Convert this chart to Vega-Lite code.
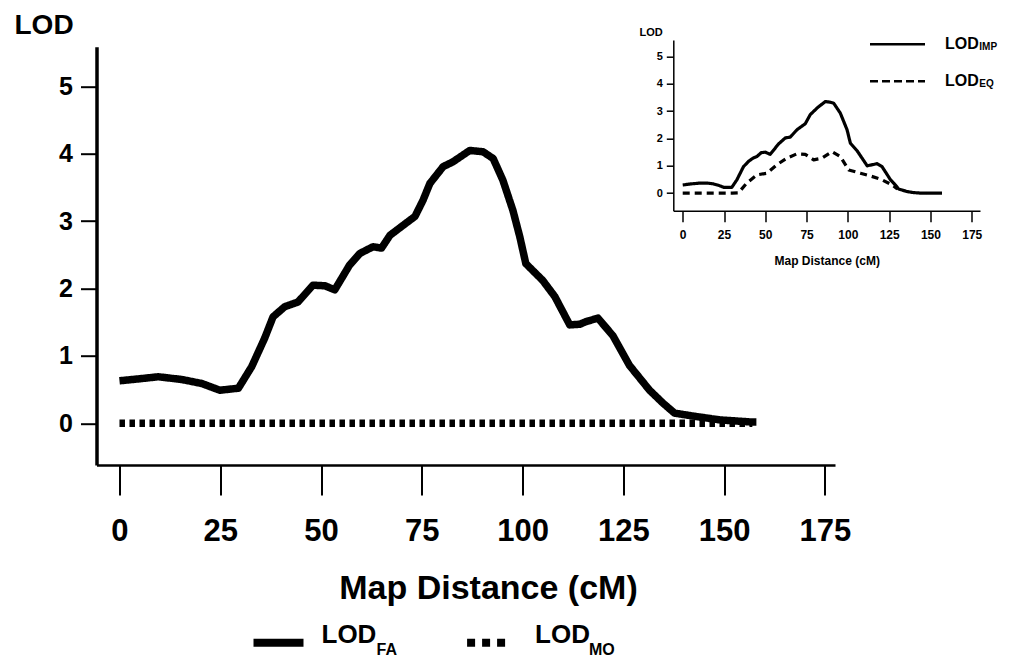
{
  "$schema": "https://vega.github.io/schema/vega-lite/v6.json",
  "width": 738.5,
  "height": 418.3,
  "autosize": {"type": "none"},
  "padding": {"left": 96.5, "top": 46.7, "right": 175, "bottom": 193},
  "background": "white",
  "config": {
    "view": {"stroke": null},
    "font": "Liberation Sans",
    "axis": {"grid": false, "domainColor": "black", "tickColor": "black", "labelColor": "black", "titleColor": "black", "labelFontWeight": "bold", "titleFontWeight": "bold", "labelFlush": false, "labelOverlap": false},
    "legend": {"labelColor": "black", "padding": 0, "offset": 0, "titlePadding": 0, "symbolOpacity": 1}
  },
  "datasets": {
    "main": [
      {"series": "FA", "x": 0, "y": 0.63},
      {"series": "FA", "x": 5, "y": 0.66},
      {"series": "FA", "x": 9.6, "y": 0.69},
      {"series": "FA", "x": 15.4, "y": 0.65},
      {"series": "FA", "x": 20.4, "y": 0.59},
      {"series": "FA", "x": 24.9, "y": 0.49},
      {"series": "FA", "x": 29.5, "y": 0.52},
      {"series": "FA", "x": 32.8, "y": 0.84},
      {"series": "FA", "x": 36, "y": 1.26},
      {"series": "FA", "x": 38.1, "y": 1.58},
      {"series": "FA", "x": 41, "y": 1.73},
      {"series": "FA", "x": 44.3, "y": 1.8},
      {"series": "FA", "x": 48, "y": 2.05},
      {"series": "FA", "x": 51, "y": 2.04},
      {"series": "FA", "x": 53.4, "y": 1.98},
      {"series": "FA", "x": 57.1, "y": 2.35},
      {"series": "FA", "x": 59.6, "y": 2.52},
      {"series": "FA", "x": 62.9, "y": 2.62},
      {"series": "FA", "x": 65, "y": 2.6},
      {"series": "FA", "x": 67.1, "y": 2.79},
      {"series": "FA", "x": 70.4, "y": 2.94},
      {"series": "FA", "x": 73.3, "y": 3.07},
      {"series": "FA", "x": 75.3, "y": 3.31},
      {"series": "FA", "x": 77, "y": 3.56},
      {"series": "FA", "x": 80.3, "y": 3.81},
      {"series": "FA", "x": 82.7, "y": 3.88},
      {"series": "FA", "x": 86.9, "y": 4.05},
      {"series": "FA", "x": 90.2, "y": 4.03},
      {"series": "FA", "x": 92.7, "y": 3.93},
      {"series": "FA", "x": 95.1, "y": 3.61},
      {"series": "FA", "x": 97.6, "y": 3.16},
      {"series": "FA", "x": 99.3, "y": 2.77},
      {"series": "FA", "x": 100.8, "y": 2.37},
      {"series": "FA", "x": 105, "y": 2.12},
      {"series": "FA", "x": 108, "y": 1.88},
      {"series": "FA", "x": 111.7, "y": 1.46},
      {"series": "FA", "x": 114.2, "y": 1.47},
      {"series": "FA", "x": 115.8, "y": 1.51},
      {"series": "FA", "x": 118.7, "y": 1.56},
      {"series": "FA", "x": 122.4, "y": 1.3},
      {"series": "FA", "x": 126.5, "y": 0.86},
      {"series": "FA", "x": 131.5, "y": 0.49},
      {"series": "FA", "x": 134.8, "y": 0.3},
      {"series": "FA", "x": 137.7, "y": 0.15},
      {"series": "FA", "x": 143, "y": 0.1},
      {"series": "FA", "x": 148.9, "y": 0.05},
      {"series": "FA", "x": 156.3, "y": 0.02},
      {"series": "FA", "x": 158, "y": 0.02},
      {"series": "MO", "x": 0, "y": 0},
      {"series": "MO", "x": 25, "y": 0},
      {"series": "MO", "x": 50, "y": 0},
      {"series": "MO", "x": 75, "y": 0},
      {"series": "MO", "x": 100, "y": 0},
      {"series": "MO", "x": 125, "y": 0},
      {"series": "MO", "x": 150, "y": 0},
      {"series": "MO", "x": 157, "y": 0}
    ],
    "inset": [
      {"curve": "IMP", "x": 0, "y": 0.3},
      {"curve": "IMP", "x": 5, "y": 0.34},
      {"curve": "IMP", "x": 10.5, "y": 0.37},
      {"curve": "IMP", "x": 15, "y": 0.37},
      {"curve": "IMP", "x": 18.6, "y": 0.34},
      {"curve": "IMP", "x": 22, "y": 0.28},
      {"curve": "IMP", "x": 25, "y": 0.21},
      {"curve": "IMP", "x": 29.7, "y": 0.21},
      {"curve": "IMP", "x": 32.8, "y": 0.49},
      {"curve": "IMP", "x": 34.8, "y": 0.73},
      {"curve": "IMP", "x": 36.8, "y": 0.97},
      {"curve": "IMP", "x": 39.8, "y": 1.16},
      {"curve": "IMP", "x": 42.5, "y": 1.28},
      {"curve": "IMP", "x": 44.9, "y": 1.34},
      {"curve": "IMP", "x": 47.5, "y": 1.48},
      {"curve": "IMP", "x": 50, "y": 1.5},
      {"curve": "IMP", "x": 53, "y": 1.42},
      {"curve": "IMP", "x": 58, "y": 1.8},
      {"curve": "IMP", "x": 62.1, "y": 2.02},
      {"curve": "IMP", "x": 65.1, "y": 2.05},
      {"curve": "IMP", "x": 69.2, "y": 2.32},
      {"curve": "IMP", "x": 74.2, "y": 2.54},
      {"curve": "IMP", "x": 77.2, "y": 2.87},
      {"curve": "IMP", "x": 81.3, "y": 3.11},
      {"curve": "IMP", "x": 86.3, "y": 3.35},
      {"curve": "IMP", "x": 89, "y": 3.33},
      {"curve": "IMP", "x": 91.4, "y": 3.29},
      {"curve": "IMP", "x": 95.4, "y": 2.93},
      {"curve": "IMP", "x": 99.5, "y": 2.32},
      {"curve": "IMP", "x": 101.5, "y": 1.83},
      {"curve": "IMP", "x": 105.6, "y": 1.55},
      {"curve": "IMP", "x": 111.7, "y": 1.0},
      {"curve": "IMP", "x": 117.7, "y": 1.08},
      {"curve": "IMP", "x": 120.7, "y": 0.97},
      {"curve": "IMP", "x": 125.8, "y": 0.49},
      {"curve": "IMP", "x": 128, "y": 0.35},
      {"curve": "IMP", "x": 130.8, "y": 0.15},
      {"curve": "IMP", "x": 135.9, "y": 0.06},
      {"curve": "IMP", "x": 140, "y": 0.02},
      {"curve": "IMP", "x": 145, "y": 0},
      {"curve": "IMP", "x": 157, "y": 0},
      {"curve": "EQ", "x": 0, "y": 0},
      {"curve": "EQ", "x": 10, "y": 0},
      {"curve": "EQ", "x": 20, "y": 0},
      {"curve": "EQ", "x": 30, "y": 0},
      {"curve": "EQ", "x": 33.7, "y": 0.01},
      {"curve": "EQ", "x": 38.8, "y": 0.37},
      {"curve": "EQ", "x": 44.9, "y": 0.67},
      {"curve": "EQ", "x": 51, "y": 0.73},
      {"curve": "EQ", "x": 57, "y": 1.04},
      {"curve": "EQ", "x": 63.1, "y": 1.28},
      {"curve": "EQ", "x": 69.2, "y": 1.44},
      {"curve": "EQ", "x": 74.2, "y": 1.42},
      {"curve": "EQ", "x": 79.3, "y": 1.22},
      {"curve": "EQ", "x": 84.3, "y": 1.28},
      {"curve": "EQ", "x": 90.4, "y": 1.52},
      {"curve": "EQ", "x": 95.4, "y": 1.34},
      {"curve": "EQ", "x": 100.5, "y": 0.85},
      {"curve": "EQ", "x": 107.6, "y": 0.73},
      {"curve": "EQ", "x": 113.7, "y": 0.63},
      {"curve": "EQ", "x": 120.7, "y": 0.49},
      {"curve": "EQ", "x": 126.8, "y": 0.3},
      {"curve": "EQ", "x": 130, "y": 0.15}
    ]
  },
  "layer": [
    {
      "data": {"name": "main"},
      "encoding": {
        "x": {"field": "x", "type": "quantitative",
          "scale": {"domain": [-5.7, 177.5], "nice": false, "zero": false},
          "axis": {"orient": "bottom", "values": [0, 25, 50, 75, 100, 125, 150, 175], "domainWidth": 2.5, "tickWidth": 2, "tickSize": 30,
            "labelFont": "Liberation Sans", "labelFontSize": 31, "labelPadding": 21,
            "title": "Map Distance (cM)", "titleFont": "Liberation Sans", "titleFontSize": 34, "titleX": 391.5, "titleY": 133, "titleBaseline": "alphabetic", "titleAlign": "center"}},
        "y": {"field": "y", "type": "quantitative",
          "scale": {"domain": [-0.62, 5.59], "nice": false, "zero": false},
          "axis": {"orient": "left", "values": [0, 1, 2, 3, 4, 5], "domainWidth": 3.5, "tickWidth": 2, "tickSize": 16,
            "labelFont": "Liberation Sans", "labelFontSize": 25, "labelPadding": 8,
            "title": "LOD", "titleFont": "Liberation Sans", "titleFontSize": 28, "titleAngle": 0, "titleX": -82.5, "titleY": -13.7, "titleAlign": "left", "titleBaseline": "alphabetic"}}
      },
      "layer": [
        {
          "mark": {"type": "line", "color": "black", "clip": false, "strokeJoin": "round", "strokeCap": "butt", "strokeWidth": 7.5},
          "encoding": {
            "strokeDash": {"field": "series", "type": "nominal",
              "scale": {"domain": ["FA", "MO"], "range": [[1, 0], [5.5, 4.5]]}, "legend": null}
          }
        },
        {
          "mark": {"type": "line", "color": "black", "opacity": 0, "clip": false},
          "encoding": {
            "strokeDash": {"field": "series", "type": "nominal",
              "scale": {"domain": ["FA", "MO"], "range": [[1, 0], [8, 7, 8, 7, 8, 40]]},
              "legend": {"orient": "none", "legendX": 153, "legendY": 567, "direction": "horizontal", "title": null,
                "symbolType": "stroke", "symbolSize": 2500, "symbolStrokeColor": "black", "symbolStrokeWidth": 8,
                "labelExpr": "'LOD'", "labelFont": "Liberation Sans", "labelFontWeight": "bold", "labelFontSize": 26, "labelOffset": 14, "labelBaseline": "alphabetic",
                "columnPadding": 74.6}}
          }
        },
        {
          "mark": {"type": "line", "color": "black", "opacity": 0, "clip": false},
          "encoding": {
            "strokeDash": {"field": "series", "type": "nominal",
              "scale": {"domain": ["FA", "MO"], "range": [[0, 1000], [0, 1000]]},
              "legend": {"orient": "none", "legendX": 153, "legendY": 579.3, "direction": "horizontal", "title": null,
                "symbolType": "stroke", "symbolSize": 2500, "symbolStrokeColor": "black", "symbolStrokeWidth": 8,
                "labelFont": "Liberation Sans", "labelFontWeight": "bold", "labelFontSize": 16, "labelOffset": 69, "labelBaseline": "alphabetic",
                "columnPadding": 47.5, "gridAlign": "all"}}
          }
        }
      ],
      "resolve": {"scale": {"strokeDash": "independent"}, "legend": {"strokeDash": "independent"}}
    },
    {
      "data": {"name": "inset"},
      "encoding": {
        "x": {"field": "x", "type": "quantitative",
          "scale": {"domain": [-5.7, 180], "range": [576.8, 883.5], "nice": false, "zero": false},
          "axis": {"orient": "bottom", "offset": -254.3, "values": [0, 25, 50, 75, 100, 125, 150, 175], "domainWidth": 1.5, "tickWidth": 1.5, "tickSize": 11,
            "labelFont": "Liberation Sans", "labelFontSize": 12, "labelPadding": 8,
            "title": "Map Distance (cM)", "titleFont": "Liberation Sans", "titleFontSize": 12, "titleX": 730.2, "titleY": 53.8, "titleBaseline": "alphabetic", "titleAlign": "center"}},
        "y": {"field": "y", "type": "quantitative",
          "scale": {"domain": [-0.64, 5.6], "range": [164, -6.7], "nice": false, "zero": false},
          "axis": {"orient": "left", "offset": -576.8, "values": [0, 1, 2, 3, 4, 5], "domainWidth": 1.5, "tickWidth": 1.5, "tickSize": 7,
            "labelFont": "Liberation Sans", "labelFontSize": 11, "labelPadding": 4,
            "title": "LOD", "titleFont": "Liberation Sans", "titleFontSize": 11, "titleAngle": 0, "titleX": -34.3, "titleY": -11.7, "titleAlign": "left", "titleBaseline": "alphabetic"}}
      },
      "layer": [
        {
          "mark": {"type": "line", "color": "black", "clip": false, "strokeJoin": "round", "strokeCap": "butt", "strokeWidth": 3.2},
          "encoding": {
            "strokeDash": {"field": "curve", "type": "nominal",
              "scale": {"domain": ["IMP", "EQ"], "range": [[1, 0], [7, 5]]}, "legend": null}
          }
        },
        {
          "mark": {"type": "line", "color": "black", "opacity": 0, "clip": false},
          "encoding": {
            "strokeDash": {"field": "curve", "type": "nominal",
              "scale": {"domain": ["IMP", "EQ"], "range": [[1, 0], [8, 4]]},
              "legend": {"orient": "none", "legendX": 772, "legendY": -31.4, "direction": "vertical", "title": null,
                "symbolType": "stroke", "symbolSize": 3025, "symbolStrokeColor": "black", "symbolStrokeWidth": 2.5,
                "labelExpr": "'LOD'", "labelFont": "Liberation Sans", "labelFontWeight": "bold", "labelFontSize": 16, "labelOffset": 18.5,
                "rowPadding": -2}}
          }
        },
        {
          "mark": {"type": "line", "color": "black", "opacity": 0, "clip": false},
          "encoding": {
            "strokeDash": {"field": "curve", "type": "nominal",
              "scale": {"domain": ["IMP", "EQ"], "range": [[0, 1000], [0, 1000]]},
              "legend": {"orient": "none", "legendX": 772, "legendY": -28.4, "direction": "vertical", "title": null,
                "symbolType": "stroke", "symbolSize": 3025, "symbolStrokeColor": "black", "symbolStrokeWidth": 2.5,
                "labelFont": "Liberation Sans", "labelFontWeight": "bold", "labelFontSize": 10, "labelOffset": 52.8,
                "rowPadding": 3}}
          }
        }
      ],
      "resolve": {"scale": {"strokeDash": "independent"}, "legend": {"strokeDash": "independent"}}
    }
  ],
  "resolve": {
    "scale": {"x": "independent", "y": "independent", "strokeDash": "independent"},
    "axis": {"x": "independent", "y": "independent"},
    "legend": {"strokeDash": "independent"}
  }
}
